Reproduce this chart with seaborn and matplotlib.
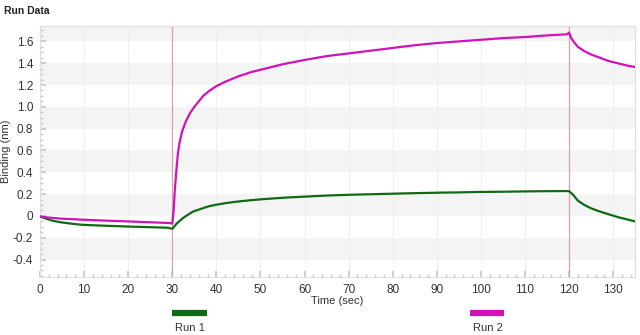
import numpy as np
import pandas as pd
import matplotlib
matplotlib.use("Agg")
import matplotlib.pyplot as plt
from matplotlib.lines import Line2D
from matplotlib.ticker import MultipleLocator, FuncFormatter
import seaborn as sns

# ---- data ----
run1_time = [0, 1, 3, 5, 8, 10, 15, 20, 25, 29, 30, 31, 32.4, 33.5, 34.7, 36.5, 38.4, 40, 42, 44, 46, 48,
             50, 53, 56, 60, 65, 70, 75, 80, 85, 90, 95, 100, 105, 110, 115, 120,
             121, 122, 123.5, 125, 127, 129, 131, 133, 135]
run1_bind = [-0.005, -0.02, -0.045, -0.06, -0.075, -0.082, -0.09, -0.097, -0.103, -0.108, -0.118,
             -0.07, -0.02, 0.01, 0.04, 0.065, 0.09, 0.103, 0.117, 0.128, 0.137, 0.145,
             0.152, 0.161, 0.169, 0.177, 0.187, 0.194, 0.199, 0.204, 0.209, 0.213, 0.216, 0.22, 0.222,
             0.225, 0.227, 0.228,
             0.19, 0.14, 0.10, 0.07, 0.04, 0.015, -0.01, -0.03, -0.05]

run2_time = [0, 2, 5, 10, 15, 20, 25, 29.5, 30, 30.3, 30.6, 31, 31.3, 31.7, 32.2, 33, 34, 35, 36, 37,
             38.5, 40, 42, 45, 48, 50, 55, 60, 65, 70, 75, 80, 85, 90, 95, 100, 105, 110, 115,
             119.5, 120, 120.5, 121, 122, 123.5, 125, 127, 129, 131, 133, 135]
run2_bind = [-0.005, -0.015, -0.025, -0.035, -0.043, -0.05, -0.058, -0.065, -0.07, 0.05, 0.25, 0.45,
             0.58, 0.68, 0.77, 0.86, 0.94, 1.0, 1.05, 1.10,
             1.15, 1.19, 1.23, 1.28, 1.32, 1.34, 1.39, 1.43, 1.465, 1.49, 1.515, 1.54, 1.565, 1.585,
             1.60, 1.615, 1.63, 1.64, 1.655,
             1.665, 1.68, 1.63, 1.60, 1.55, 1.51, 1.48, 1.45, 1.42, 1.40, 1.38, 1.365]

run_names = ["Run 1", "Run 2"]
run_colors = ["#0f6a14", "#d112b9"]
event_times = [30, 120]
y_ticks = [-0.4, -0.2, 0, 0.2, 0.4, 0.6, 0.8, 1.0, 1.2, 1.4, 1.6]
x_ticks = list(range(0, 140, 10))

df = pd.concat([
    pd.DataFrame({"Time": run1_time, "Binding": run1_bind, "Run": run_names[0]}),
    pd.DataFrame({"Time": run2_time, "Binding": run2_bind, "Run": run_names[1]}),
], ignore_index=True)

sns.set_theme(style="white")
plt.rcParams["font.family"] = ["Liberation Sans", "DejaVu Sans"]

fig = plt.figure(figsize=(6.4, 3.35), dpi=100)
ax = fig.add_axes([0.0625, 0.173, 0.930, 0.749])

ylim = (-0.56, 1.74)
xlim = (0, 135)

# alternating background bands
for k in range(-3, 9):
    lo = 0.2 * k
    if k % 2 == 0:
        ax.axhspan(lo, lo + 0.2, color="#f4f4f4", lw=0, zorder=0)

for xt in x_ticks:
    ax.axvline(xt, color="#ececec", lw=0.6, zorder=0.5)

for et in event_times:
    ax.axvline(et, color="#d9a3a3", lw=0.9, zorder=1)

sns.lineplot(data=df, x="Time", y="Binding", hue="Run", palette=run_colors,
             estimator=None, sort=False, legend=False, lw=1.6, ax=ax, zorder=3)

ax.set_xlim(*xlim)
ax.set_ylim(*ylim)
ax.set_xticks(x_ticks)
ax.set_yticks(y_ticks)
ax.xaxis.set_minor_locator(MultipleLocator(2))
ax.yaxis.set_minor_locator(MultipleLocator(0.05))
ax.yaxis.set_major_formatter(FuncFormatter(lambda v, p: "0" if abs(v) < 1e-9 else f"{v:.1f}"))
ax.tick_params(axis="both", which="major", direction="in", length=4, color="#c8c8c8",
               labelsize=8.5, labelcolor="#333333", pad=5)
ax.tick_params(axis="both", which="minor", direction="in", length=2.5, color="#c8c8c8")
ax.tick_params(axis="x", which="both", bottom=True)
ax.tick_params(axis="y", which="both", left=True)
for s in ax.spines.values():
    s.set_color("#dddddd")
    s.set_linewidth(0.8)

ax.set_xlabel("Time (sec)", fontsize=8, color="#333333", labelpad=0)
ax.set_ylabel("Binding (nm)", fontsize=8, color="#333333", labelpad=1)

fig.text(0.006, 0.968, "Run Data", fontsize=7.5, fontweight="bold", color="#222222", va="center")

# legend below the chart
leg_x = [(172, 207), (470, 504)]
for (x0, x1), name, col in zip(leg_x, run_names, run_colors):
    fig.add_artist(Line2D([x0 / 640, x1 / 640], [1 - 313 / 335] * 2, color=col, lw=4.5,
                          solid_capstyle="butt"))
    fig.text((x0 + 3) / 640, 1 - 328 / 335, name, fontsize=8, color="#333333", va="center")

fig.savefig("out.png", dpi=100)
